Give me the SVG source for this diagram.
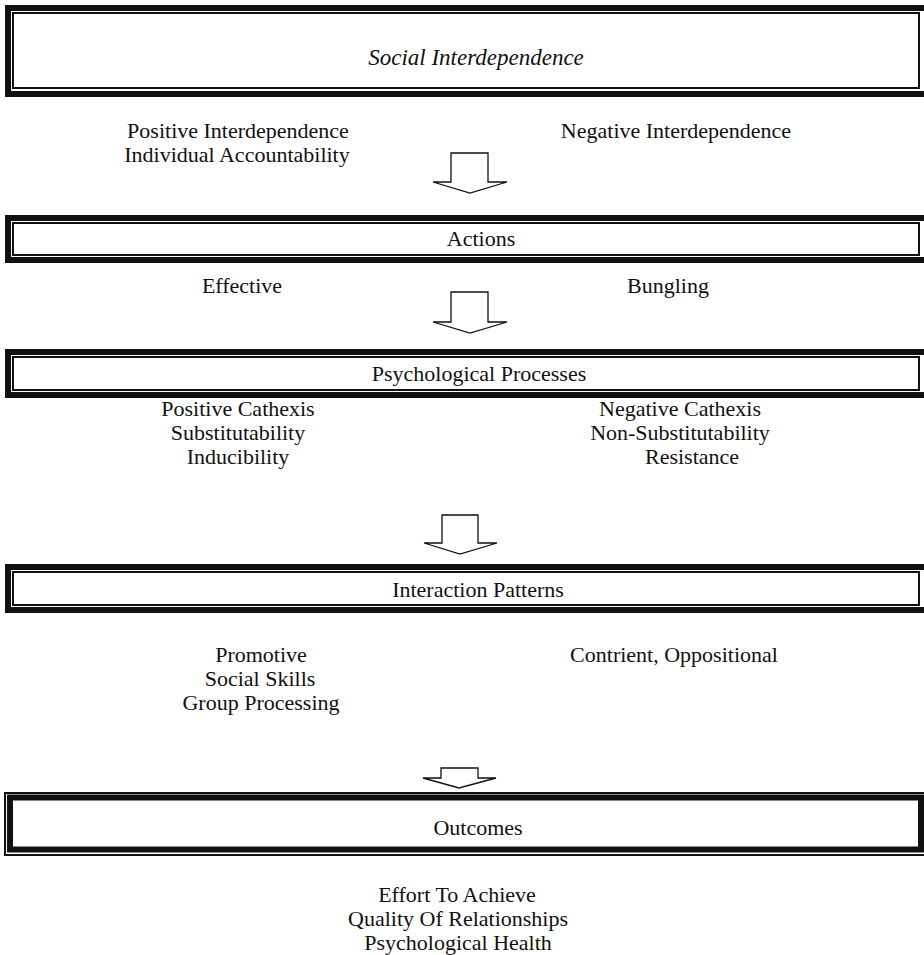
<svg xmlns="http://www.w3.org/2000/svg" width="924" height="955" viewBox="0 0 924 955">
<style>
text{font-family:"Liberation Serif","Times New Roman",serif;font-size:22px;fill:#111;text-anchor:middle}
.it{font-style:italic;font-size:23px}
.thick{fill:none;stroke:#111;stroke-width:6}
.thin{fill:none;stroke:#111;stroke-width:2}
.arr{fill:#fff;stroke:#111;stroke-width:1.3;stroke-linejoin:miter}
</style>
<rect width="924" height="955" fill="#fff"/>
<g id="social-interdependence">
<rect class="thick" x="8" y="8" width="919" height="86"/>
<rect class="thin" x="13" y="13" width="906" height="75"/>
<text class="it" x="476" y="65">Social Interdependence</text>
</g>
<g id="actions">
<rect class="thick" x="8" y="218" width="919" height="42"/>
<rect class="thin" x="13" y="223" width="906" height="32"/>
<text x="481" y="246">Actions</text>
</g>
<g id="psychological-processes">
<rect class="thick" x="8" y="352" width="919" height="43"/>
<rect class="thin" x="13" y="357" width="906" height="33"/>
<text x="479" y="381">Psychological Processes</text>
</g>
<g id="interaction-patterns">
<rect class="thick" x="8" y="567" width="919" height="43"/>
<rect class="thin" x="13" y="572" width="906" height="33"/>
<text x="478" y="597">Interaction Patterns</text>
</g>
<g id="outcomes">
<rect class="thin" x="5" y="793" width="922" height="62"/>
<rect class="thick" x="10" y="797.5" width="911" height="52"/>
<text x="478" y="835">Outcomes</text>
</g>
<g id="labels">
<text x="238" y="138">Positive Interdependence</text>
<text x="237" y="162">Individual Accountability</text>
<text x="676" y="138">Negative Interdependence</text>
<text x="242" y="293">Effective</text>
<text x="668" y="293">Bungling</text>
<text x="238" y="416">Positive Cathexis</text>
<text x="238" y="440">Substitutability</text>
<text x="238" y="464">Inducibility</text>
<text x="680" y="416">Negative Cathexis</text>
<text x="680" y="440">Non-Substitutability</text>
<text x="692" y="464">Resistance</text>
<text x="261" y="662">Promotive</text>
<text x="260" y="686">Social Skills</text>
<text x="261" y="710">Group Processing</text>
<text x="674" y="662">Contrient, Oppositional</text>
<text x="457" y="902">Effort To Achieve</text>
<text x="458" y="926">Quality Of Relationships</text>
<text x="458" y="950">Psychological Health</text>
</g>
<g id="connectors">
<polygon class="arr" points="451,153 488,153 488,182 507,182 470,193 433,182 451,182"/>
<polygon class="arr" points="451,292 488,292 488,322 507,322 470,333 433,322 451,322"/>
<polygon class="arr" points="442,515 478,515 478,543 497,543 460,554 424,543 442,543"/>
<polygon class="arr" points="441,768 478,768 478,778 496,778 459,788 423,778 441,778"/>
</g>
</svg>
